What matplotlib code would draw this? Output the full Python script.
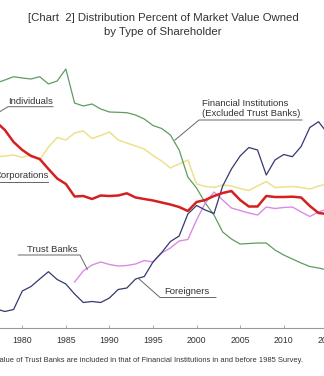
import matplotlib
matplotlib.use("Agg")
import matplotlib.pyplot as plt
import numpy as np

plt.rcParams['font.family'] = ['Liberation Sans', 'DejaVu Sans']

# values (percent of market value)
years = list(range(1977, 2016))
years_tb = list(range(1986, 2016))

# pixel readings converted below: p = (328 - y) / 6.5
fin_px = [83, 80, 76.7, 78, 79, 76.7, 84, 81, 69, 103, 106, 104, 109, 112,
          112.3, 112.7, 115, 119, 125.5, 128.5, 135, 150, 177, 188, 203,
          215, 232, 239, 244, 243.5, 243, 243, 250, 255, 259, 263, 266.5, 268, 270]
corp_px = [157, 156, 155, 157.5, 154.5, 160, 147, 137.5, 140, 133, 131, 138.5,
           135.5, 132, 140, 143, 146, 149, 155.5, 161, 168, 164, 160, 184,
           186.5, 187.5, 185, 186, 188.5, 190.5, 186, 181.5, 187.5, 187, 186.5,
           187.5, 189, 186, 184]
indiv_px = [122, 130, 142, 150, 156, 159, 169, 178.5, 184, 196.5, 196, 199,
            195.5, 196, 195.5, 193.3, 197.5, 199, 200.5, 202.5, 204.5, 207,
            211, 202, 200, 196, 193, 191, 200, 206.5, 206.5, 196, 197, 197,
            196.7, 197.5, 206, 213, 214]
foreign_px = [309, 311.5, 309.5, 291, 286.5, 279, 271.7, 279.5, 284, 294,
              302.5, 301.5, 302.5, 298, 289.5, 288, 279, 276.5, 262, 252.5,
              241.5, 236, 214, 205.5, 210, 213.5, 186, 169, 156, 147.5, 150,
              175, 160, 154.5, 156.7, 146.5, 127.5, 121.7, 133]
trust_px = [282, 271, 265, 262, 264.5, 266, 265.5, 264, 260.5, 262, 253, 248,
            241, 239.5, 220, 203, 192, 200, 208, 210.5, 213, 215, 207, 208.5,
            207.5, 207, 212, 216.5, 212, 209]

def to_pct(v):
    return (328 - np.array(v)) / 6.5

financial = to_pct(fin_px)
corporations = to_pct(corp_px)
individuals = to_pct(indiv_px)
foreigners = to_pct(foreign_px)
trust_banks = to_pct(trust_px)

W, H = 324, 376
fig = plt.figure(figsize=(W / 100, H / 100), dpi=100)

# axes wider than the figure: the reference is cropped on both sides
x0 = 22.3 - 5 * 8.713
x1 = 22.3 + 37 * 8.713
ax = fig.add_axes([x0 / W, (H - 328) / H, (x1 - x0) / W, (48 * 6.5) / H])
ax.set_xlim(1975, 2017)
ax.set_ylim(0, 48)

ax.plot(years, corporations, color='#efe08c', lw=1.1)
ax.plot(years, financial, color='#5f9c5f', lw=0.9)
ax.plot(years_tb, trust_banks, color='#d98be3', lw=1.0)
ax.plot(years, foreigners, color='#35396f', lw=0.9)
ax.plot(years, individuals, color='#d42020', lw=1.8)

for s in ['top', 'left', 'right']:
    ax.spines[s].set_visible(False)
ax.spines['bottom'].set_color('#999999')
ax.spines['bottom'].set_linewidth(0.8)
ax.set_yticks([])
ax.set_xticks(range(1980, 2016, 5))
ax.tick_params(axis='x', direction='in', length=2.5, width=0.6, color='#999999',
               labelsize=6.3, labelcolor='#333333', pad=5.5)

def fp(x, y):
    return (x / W, 1 - y / H)

def label(lines, x, y, ha='left', size=6.8):
    fig.text(*fp(x, y), lines, ha=ha, va='center', fontsize=size,
             color='#333333', linespacing=1.15)

def leader(pts):
    xs = [p[0] / W for p in pts]
    ys = [1 - p[1] / H for p in pts]
    fig.add_artist(plt.Line2D(xs, ys, color='#666666', lw=0.7,
                              transform=fig.transFigure))

label("Individuals", 8, 101)
leader([(53, 106.7), (8, 106.7), (-4, 114)])

label("Corporations", 49, 175, ha='right')
leader([(48, 181.7), (-10, 181.7)])

label("Financial Institutions\n(Excluded Trust Banks)", 201.7, 108.5)
leader([(302, 120), (199, 120), (175, 140)])

label("Trust Banks", 26.7, 249)
leader([(18.3, 255), (80, 255), (87.3, 269.3)])

label("Foreigners", 164.3, 291)
leader([(216, 297.5), (160, 297.5), (138.3, 278.3)])

fig.text(0.503, 1 - 18 / H, "[Chart  2] Distribution Percent of Market Value Owned",
         ha='center', va='center', fontsize=8.2, color='#333333')
fig.text(0.503, 1 - 32 / H, "by Type of Shareholder",
         ha='center', va='center', fontsize=8.2, color='#333333')

fig.text(303 / W, 1 - 360 / H,
         "*Value of Trust Banks are included in that of Financial Institutions in and before 1985 Survey.",
         ha='right', va='center', fontsize=5.4, color='#333333')

fig.savefig("out.png", dpi=100)
